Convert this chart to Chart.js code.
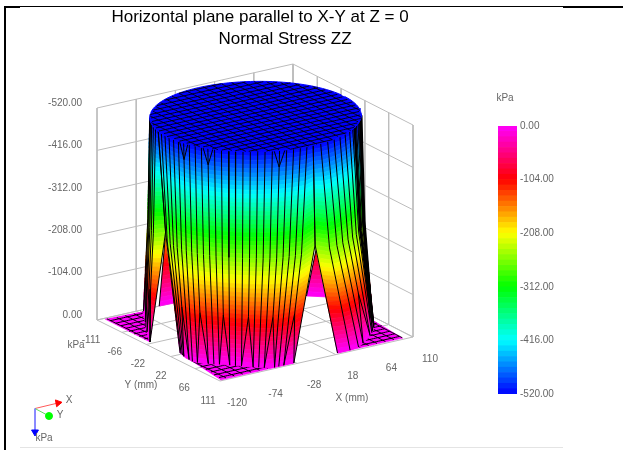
<!DOCTYPE html>
<html><head><meta charset="utf-8">
<style>html,body{margin:0;padding:0;background:#fff;overflow:hidden}
#wrap{position:relative;width:623px;height:450px}
#main{position:absolute;left:0;top:0}
#bar{position:absolute;left:498px;top:110px}</style>
<script src="https://cdn.jsdelivr.net/npm/chart.js@4"></script></head>
<body><div id="wrap"><canvas id="main" width="623" height="450"></canvas><canvas id="bar" width="70" height="300"></canvas></div>
<script>
// ---- data (mm and kPa) ----
const titleLines = ['Horizontal plane parallel to X-Y at Z = 0','Normal Stress ZZ'];
const kpaTicks = [0,-104,-208,-312,-416,-520];
const xTicks = [-120,-74,-28,18,64,110];
const yTicks = [-111,-66,-22,22,66,111];
const paletteStops = [[255,0,255],[255,0,0],[255,255,0],[0,255,0],[0,255,255],[0,0,255]];
const capCentreX = -5, capRadius = 105, capKpa = -520;

// wall columns: rim angle (deg) and the floor point each column lands on
const rightAngle = [33,35,37,39,41,43,45,47,50,53,56,60,65,70,75,80,85,90];
const rightBaseX = [105,104,103,101.5,100,98.5,97,95,93,90,87,83,77,69,59,49,37,22];
const rightBaseY = [39,43,46,50,53,56,59,62,65,69,72,77,83,90,98,105,108,108];
const frontAngle = [90,94,98,102,106,110,114,118,122,126,130,134,138,142,146,150,154,158,162,166,170,174,178,182,186,190];
const frontBaseX = [-30,-36,-42,-48,-53,-58,-62,-66,-70,-74,-78,-82,-86,-90,-93,-97,-101,-105,-108,-110,-110,-110,-109,-108,-107,-106.6];
const frontBaseY = [108,108,108,108,108,107,103,99,95,91,86,81,77,73,69,65,61,56,52,46,40,34,29,25,21,18.6];
const leftAngle = [190,194,198,202,206,210,213];
const leftBaseX = [-113,-106,-99,-92,-84,-76,-68];
const leftBaseY = [-26,-40,-53,-66,-79,-93,-107];
// where each of the two open slots in the wall closes
const rightSlotTop = {X:7,Y:90,kpa:-260};
const leftSlotTop = {X:-94,Y:-27,kpa:-260};
// far skirt spikes visible through the slots: two floor points and an apex
const farSpikeLeft = {baseX:[-47,-30],baseY:[-111,-110],apexX:-40,apexY:-110,apexKpa:-179};
const farSpikeRight = {baseX:[89,105],baseY:[-53,-38],apexX:97.5,apexY:-47,apexKpa:-125};
// floor corners of the mesh that stay outside the load
const cornerLeftX = [-112,-113,-68], cornerLeftY = [-109,-26,-107];
const cornerFrontX = [-118,-30,-105,-110], cornerFrontY = [109,108,52,42];
const cornerRightX = [100,22,105], cornerRightY = [108,108,39];
// small V notches at the rim, and the level at which wall lines fork near the floor
const rimNotchAngles = [110,150,166];
const forkKpa = -120;
const heavyEdgeAngles = [33,35,37,53];
const wallBendKpa = -260, wallBendShare = 0.3;

// ---- helpers ----
const boxPx = {left:[97,320],front:[220,381],right:[413,337],back:[293,276]};
const kpaPx = 212/520;
function project(X,Y,kpa){
  const u=(X-xTicks[0])/(xTicks[5]-xTicks[0]), v=(Y-yTicks[0])/(yTicks[5]-yTicks[0]);
  const b=boxPx;
  const mix=i=>(1-u)*(1-v)*b.left[i]+u*(1-v)*b.back[i]+(1-u)*v*b.front[i]+u*v*b.right[i];
  return {x:mix(0),y:mix(1)+kpa*kpaPx};
}
const BANDS=50, bandStep=520/BANDS;
function paletteAt(kpa){
  const t=Math.min(4.9999,Math.max(0,-kpa/104)),i=Math.floor(t),f=t-i;
  const c=paletteStops[i].map((v,k)=>Math.round(v+(paletteStops[i+1][k]-v)*f));
  return `rgb(${c[0]},${c[1]},${c[2]})`;
}
const rimPoint=a=>({X:capCentreX+capRadius*Math.cos(a*Math.PI/180),Y:capRadius*Math.sin(a*Math.PI/180),kpa:capKpa});
const proj=p=>project(p.X,p.Y,p.kpa);
function at(col,kpa){
  for(let i=0;i<col.length-1;i++){
    const p=col[i],q=col[i+1];
    if(kpa<=q.kpa||i===col.length-2){
      const f=Math.max(0,Math.min(1,(kpa-p.kpa)/(q.kpa-p.kpa)));
      return project(p.X+(q.X-p.X)*f,p.Y+(q.Y-p.Y)*f,kpa);
    }
  }
}
function columns(ang,bx,by,knees){
  return ang.map((a,i)=>{
    const r=rimPoint(a),c=[r];
    if(knees&&knees[i]){c.push(knees[i]);c.slot=true;}
    else c.push({X:r.X+(bx[i]-r.X)*wallBendShare,Y:r.Y+(by[i]-r.Y)*wallBendShare,kpa:wallBendKpa});
    c.push({X:bx[i],Y:by[i],kpa:0});
    return c;
  });
}
const rightCols=columns(rightAngle,rightBaseX,rightBaseY,{17:rightSlotTop});
const frontCols=columns(frontAngle,frontBaseX,frontBaseY,{0:rightSlotTop,25:leftSlotTop});
const leftCols=columns(leftAngle,leftBaseX,leftBaseY,{0:leftSlotTop});
function spikeCols(s){return s.baseX.map((x,i)=>[{X:s.apexX,Y:s.apexY,kpa:s.apexKpa},{X:x,Y:s.baseY[i],kpa:0}]);}

const painter=[];
const line=(data,color,width)=>painter.push({data,showLine:true,pointRadius:0,borderColor:color,borderWidth:width,tension:0,fill:false,spanGaps:false});
const poly=(data,color,edge)=>painter.push({data,showLine:true,pointRadius:0,borderColor:color,borderWidth:edge,backgroundColor:color,tension:0,fill:'shape',spanGaps:false});
const GAP={x:NaN,y:NaN};

// box grid
const grey='#bdbdbd';
{
  const d=[];
  const X0=xTicks[0],X1=xTicks[5],Y0=yTicks[0],Y1=yTicks[5],top=kpaTicks[5];
  kpaTicks.forEach(k=>{d.push(project(X0,Y0,k),project(X1,Y0,k),project(X1,Y1,k),GAP);});
  xTicks.forEach(x=>{d.push(project(x,Y0,top),project(x,Y0,0),project(x,Y1,0),GAP);});
  yTicks.forEach(y=>{d.push(project(X1,y,top),project(X1,y,0),project(X0,y,0),GAP);});
  line(d,grey,1);
}
function inPoly(px,py,xs,ys){
  let r=false;
  for(let i=0,j=xs.length-1;i<xs.length;j=i++){
    if((ys[i]>py)!==(ys[j]>py)&&px<(xs[j]-xs[i])*(py-ys[i])/(ys[j]-ys[i])+xs[i])r=!r;
  }
  return r;
}
function meshLines(xs,ys,kpa){
  const d=[],step=2.5;
  for(let x=-120;x<=110;x+=10){
    let on=false;
    for(let y=-111;y<=111;y+=step){
      if(inPoly(x,y,xs,ys)){d.push(project(x,y,kpa));on=true;}
      else if(on){d.push(GAP);on=false;}
    }
    d.push(GAP);
  }
  for(let y=-111;y<=111;y+=9.25){
    let on=false;
    for(let x=-120;x<=110;x+=step){
      if(inPoly(x,y,xs,ys)){d.push(project(x,y,kpa));on=true;}
      else if(on){d.push(GAP);on=false;}
    }
    d.push(GAP);
  }
  return d;
}
// floor corners
[[cornerLeftX,cornerLeftY],[cornerFrontX,cornerFrontY],[cornerRightX,cornerRightY]].forEach(([xs,ys])=>{
  poly(xs.map((x,i)=>project(x,ys[i],0)),paletteAt(-1),0.5);
  line(meshLines(xs,ys,0),'#000',1);
});
function bands(cols){
  for(let b=0;b<BANDS;b++){
    const z1=kpaTicks[5]+b*bandStep,z2=z1+bandStep;
    const lowTop=Math.min(...cols.map(c=>c[0].kpa));
    if(z2<=lowTop)continue;
    const a=Math.max(z1,lowTop);
    poly(cols.map(c=>at(c,a)).concat(cols.map(c=>at(c,z2)).reverse()),paletteAt((z1+z2)/2),0.8);
  }
}
function blackLines(cols,fork){
  const d=[];
  const foot=c=>proj(c[c.length-1]);
  cols.forEach((c,i)=>{
    if(fork&&!c.slot&&i%4===1&&i+1<cols.length){
      d.push(proj(c[0]),proj(c[1]),at(c,forkKpa),foot(cols[i+1]),GAP);
      d.push(at(c,forkKpa),foot(cols[i-1]),GAP);
    } else {
      c.forEach(p=>d.push(proj(p)));d.push(GAP);
    }
  });
  line(d,'#000',1);
}
[farSpikeLeft,farSpikeRight].forEach(s=>{const c=spikeCols(s);bands(c);blackLines(c,false);});
[rightCols,leftCols,frontCols].forEach(c=>bands(c));
[rightCols,leftCols,frontCols].forEach(c=>blackLines(c,true));
{
  const d=[];
  heavyEdgeAngles.forEach(a=>{const i=rightAngle.indexOf(a);d.push(proj(rightCols[i][0]),proj(rightCols[i][1]),at(rightCols[i],-60),GAP);});
  line(d,'#000',2.6);
  const n=[];
  rimNotchAngles.forEach(a=>{const i=frontAngle.indexOf(a),low=at(frontCols[i],-480);
    n.push(proj(rimPoint(a-3)),low,proj(rimPoint(a+3)),GAP);});
  line(n,'#000',1);
}
// flat cap
{
  const xs=[],ys=[],p=[];
  for(let a=0;a<360;a+=3){const r=rimPoint(a);xs.push(r.X);ys.push(r.Y);p.push(project(r.X,r.Y,capKpa));}
  poly(p,'rgb(0,0,255)',1);
  line(meshLines(xs,ys,capKpa),'#000',0.9);
}
// axis triad
const triadRed=[{x:35,y:408.5},{x:58,y:403}],triadGreen=[{x:35,y:408.5},{x:49,y:416}],triadBlue=[{x:35,y:408.5},{x:35,y:432}];
const triad=(data,line,fillC,style,rot,r)=>painter.push({data,showLine:true,borderColor:line,borderWidth:1,backgroundColor:fillC,pointBorderColor:fillC,pointBackgroundColor:fillC,pointStyle:style,pointRotation:rot,pointRadius:[0,r],tension:0,fill:false});
triad(triadRed,'#ff5a5a','#ff0000','triangle',80,4);
triad(triadGreen,'#5ae05a','#00ff00','circle',0,3.5);
triad(triadBlue,'#7a7aff','#0000ff','triangle',180,4);

const textPlugin={id:'texts',afterDraw(ch){
  const c=ch.ctx;c.save();
  // frame
  c.fillStyle='#000';c.fillRect(4,6,2,444);c.fillRect(4,6,619,1);c.fillRect(4,6,16,2);c.fillRect(563,6,60,2);
  c.fillStyle='#e4e4e4';c.fillRect(20,447,543,1);
  c.fillStyle='#000';c.textBaseline='middle';c.textAlign='center';c.font='17px "Liberation Sans"';
  c.fillText(titleLines[0],260,17);c.fillText(titleLines[1],285,39);
  c.fillStyle='#666';c.font='10px "Liberation Sans"';
  c.textAlign='right';
  kpaTicks.forEach(k=>{const p=project(xTicks[0],yTicks[0],k);c.fillText(k.toFixed(2),p.x-15,p.y-5);});
  c.textAlign='center';
  yTicks.forEach((y,i)=>{const p=project(xTicks[0],y,0);c.fillText(String(y),p.x-6-1.2*i,p.y+20);});
  xTicks.forEach(x=>{const p=project(x,yTicks[5],0);c.fillText(String(x),p.x+17,p.y+22);});
  c.fillText('kPa',76,345);c.fillText('Y (mm)',141,385);c.fillText('X (mm)',352,398);
  c.fillText('X',69,400);c.fillText('Y',60,415);c.fillText('kPa',44,438);
  c.fillText('kPa',505,98);
  c.restore();
}};
new Chart(document.getElementById('main'),{type:'scatter',
  data:{datasets:painter.slice().reverse()},
  options:{responsive:false,animation:false,events:[],layout:{padding:0,autoPadding:false},
    plugins:{legend:{display:false},tooltip:{enabled:false},title:{display:false}},
    scales:{x:{type:'linear',min:0,max:623,display:false},y:{type:'linear',min:0,max:450,reverse:true,display:false}}},
  plugins:[textPlugin]});
// colour bar
const barSets=[];
for(let b=0;b<BANDS;b++){const z1=kpaTicks[5]+b*bandStep,z2=z1+bandStep;
  barSets.push({data:[[z1,z2]],backgroundColor:paletteAt((z1+z2)/2),borderWidth:0,barPercentage:1,categoryPercentage:1,grouped:false});}
new Chart(document.getElementById('bar'),{type:'bar',data:{labels:['kPa'],datasets:barSets},
  options:{responsive:false,animation:false,events:[],layout:{padding:{top:16,bottom:16}},
    plugins:{legend:{display:false},tooltip:{enabled:false}},
    scales:{x:{display:false,stacked:false},
      y:{position:'right',min:-520,max:0,afterFit(s){s.width=51;},
        afterBuildTicks(s){s.ticks=kpaTicks.map(v=>({value:v}));},
        grid:{display:false,drawTicks:false},border:{display:false},
        ticks:{padding:3,color:'#666',font:{family:'"Liberation Sans"',size:10},callback:v=>v.toFixed(2)}}}}});
</script></body></html>
